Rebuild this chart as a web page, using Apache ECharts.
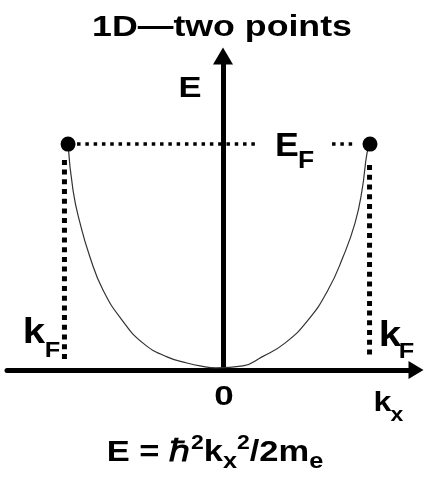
<!DOCTYPE html>
<html>
<head>
<meta charset="utf-8">
<script src="https://cdn.jsdelivr.net/npm/echarts@6/dist/echarts.min.js"></script>
<style>
  html, body { margin: 0; padding: 0; background: #fff; }
  #chart { width: 424px; height: 483px; }
</style>
</head>
<body>
<div id="chart"></div>
<script>
// dispersion E(k), k in units of kF-ish, E in units of EF
const bandK = [-1.033, -1.0, -0.953, -0.887, -0.8, -0.673, -0.533, -0.373, -0.24, -0.153, -0.047,
  0.133, 0.26, 0.413, 0.567, 0.7, 0.8, 0.88, 0.927, 0.96, 0.98]
const bandE = [1.0, 0.796, 0.65, 0.5, 0.354, 0.221, 0.119, 0.058, 0.031, 0.018, 0.009,
  0.018, 0.058, 0.119, 0.221, 0.354, 0.5, 0.65, 0.796, 0.96, 1.0]

// the two Fermi points
const fermiK = [-1.033, 0.98]
const fermiE = 1.0

// dotted Fermi level pieces (k from, k to), gap left for the E_F label
const levelPieces = [[-0.973, 0.227], [0.727, 0.893]]
// dotted drop lines: k, E top, E bottom
const dropLines = [[-1.057, 0.93, 0.044], [0.977, 0.907, 0.066]]

const font = '"Liberation Sans", Arial, sans-serif'

const chart = echarts.init(document.getElementById('chart'))

const bandData = bandK.map((k, i) => [k, bandE[i]])
const levelData = []
levelPieces.forEach(p => {
  levelData.push([p[0], fermiE], [p[1], fermiE], '-')
})
const dropData = []
dropLines.forEach(d => {
  dropData.push([d[0], d[1]], [d[0], d[2]], '-')
})

function label(text, x, y, size, sx) {
  return {
    type: 'text',
    x: x,
    y: y,
    scaleX: sx || 1.15,
    z: 100,
    style: {
      text: text,
      fill: '#000',
      fontFamily: font,
      fontWeight: 'bold',
      fontSize: size,
      align: 'center',
      verticalAlign: 'middle',
    },
  }
}

chart.setOption({
  animation: false,
  backgroundColor: '#fff',
  grid: { left: 7, right: 8, top: 56, bottom: 113 },
  xAxis: {
    type: 'value',
    min: -1.44,
    max: 1.2867,
    axisLine: {
      lineStyle: { color: '#000', width: 5 },
      symbol: ['none', 'triangle'],
      symbolSize: [18, 15],
    },
    axisTick: { show: false },
    axisLabel: { show: false },
    splitLine: { show: false },
  },
  yAxis: {
    type: 'value',
    min: 0,
    max: 1.39,
    axisLine: {
      show: true,
      lineStyle: { color: '#000', width: 5 },
      symbol: ['none', 'triangle'],
      symbolSize: [20, 17],
    },
    axisTick: { show: false },
    axisLabel: { show: false },
    splitLine: { show: false },
  },
  series: [
    {
      type: 'line',
      data: bandData,
      smooth: true,
      showSymbol: false,
      lineStyle: { color: '#333', width: 1.2 },
      z: 3,
    },
    {
      type: 'line',
      data: levelData,
      showSymbol: false,
      connectNulls: false,
      lineStyle: { color: '#000', width: 3.5, type: [3.5, 4.8] },
      z: 4,
    },
    {
      type: 'line',
      data: dropData,
      showSymbol: false,
      connectNulls: false,
      lineStyle: { color: '#000', width: 5, type: [5, 4.7] },
      z: 4,
    },
    {
      type: 'scatter',
      data: fermiK.map(k => [k, fermiE]),
      symbolSize: 15,
      itemStyle: { color: '#000', opacity: 1 },
      z: 5,
    },
  ],
  graphic: [
    label('1D\u2014two points', 222, 28, 30, 1.19),
    label('E', 190, 89, 30),
    label('E', 287, 147, 34, 1.05),
    label('F', 306, 162, 23),
    label('k', 34, 333, 35),
    label('F', 52.5, 351, 22),
    label('k', 390, 336, 35),
    label('F', 406.5, 352, 22),
    label('0', 224, 397, 28, 1.25),
    label('k', 382.5, 403, 28),
    label('x', 397, 415, 20),
    {
      type: 'text',
      x: 215,
      y: 453,
      scaleX: 1.15,
      z: 100,
      style: {
        text: '{n|E = }{h|\u210F}{p|2}{n|k}{x|x}{p|2}{n|/2m}{e|e}',
        fill: '#000',
        align: 'center',
        verticalAlign: 'middle',
        rich: {
          n: { fontFamily: font, fontWeight: 'bold', fontSize: 30, lineHeight: 40, verticalAlign: 'middle' },
          h: { fontFamily: font, fontWeight: 'bold', fontSize: 30, lineHeight: 40, verticalAlign: 'middle', padding: [0, 1, 0, 0] },
          p: { fontFamily: font, fontWeight: 'bold', fontSize: 20, lineHeight: 32, verticalAlign: 'top' },
          x: { fontFamily: font, fontWeight: 'bold', fontSize: 22, lineHeight: 10, verticalAlign: 'bottom' },
          e: { fontFamily: font, fontWeight: 'bold', fontSize: 22, lineHeight: 17, verticalAlign: 'bottom' },
        },
      },
    },
  ],
})

window.addEventListener('resize', () => chart.resize())
</script>
</body>
</html>
